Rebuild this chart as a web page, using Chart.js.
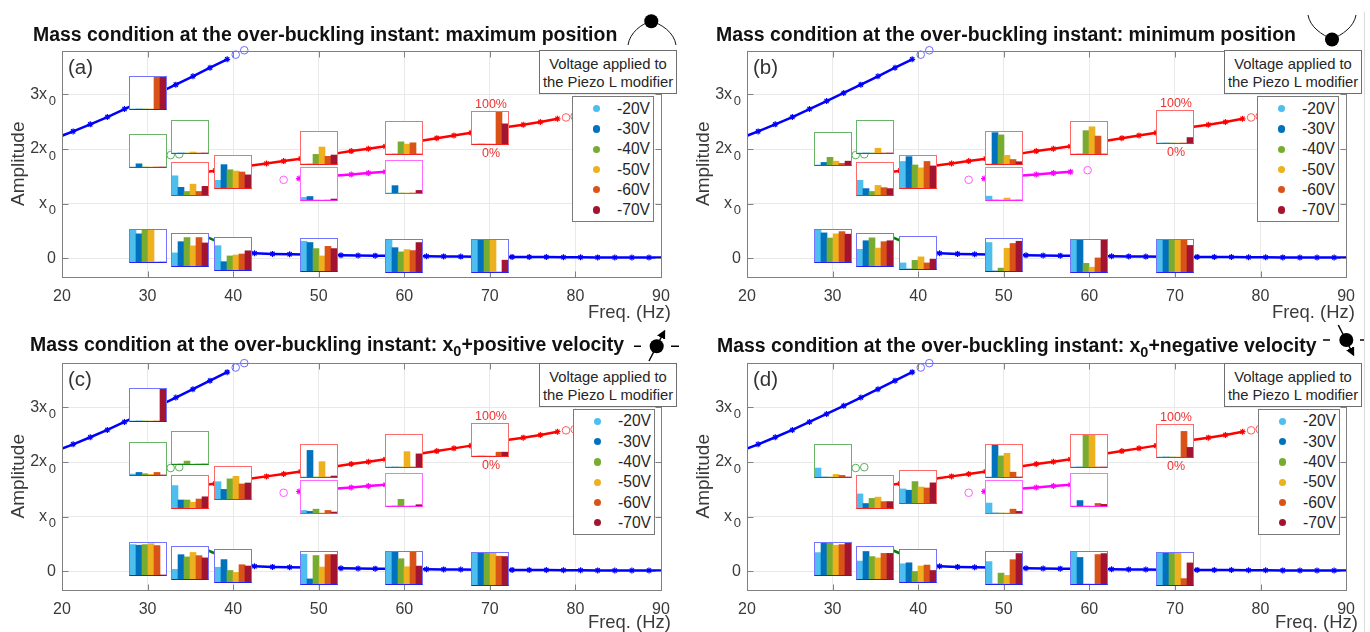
<!DOCTYPE html>
<html><head><meta charset="utf-8">
<script src="https://cdn.jsdelivr.net/npm/chart.js@4"></script>
<style>
html,body{margin:0;padding:0;background:#fff;overflow:hidden;width:1370px;height:632px;font-family:"Liberation Sans",Arial,sans-serif}
canvas{display:block}
.abs{position:absolute}
.title{position:absolute;font-weight:bold;color:#111;white-space:nowrap;line-height:22px;transform:translateY(-50%)}
.title sub{font-size:14.5px;line-height:0;vertical-align:-5px}
.inset{position:absolute;box-sizing:border-box;background:#fff;border-style:solid;border-width:1px;overflow:hidden}
.label{position:absolute;white-space:nowrap;color:#3a3a3a;transform:translateY(-50%)}
.vbox{position:absolute;box-sizing:border-box;background:#fff;border:1px solid #6e6e6e;color:#262626;font-size:14.8px;line-height:18.3px;text-align:center;padding-top:3.5px;white-space:nowrap}
.legend{position:absolute;box-sizing:border-box;background:#fff;border:1px solid #7a7a7a}
.dot{position:absolute;width:7.4px;height:7.4px;border-radius:50%}
.ltext{position:absolute;font-size:15.6px;color:#262626;white-space:nowrap;transform:translate(-100%,-50%)}
.pct{position:absolute;color:#f03030;font-size:12.5px;white-space:nowrap;transform:translate(-50%,-50%)}
</style></head><body>
<script>
// ---- shared categories ----
const voltages = ['-20V','-30V','-40V','-50V','-60V','-70V'];
const voltageColors = ['#4DBEEE','#0072BD','#77AC30','#EDB120','#D95319','#A2142F'];
const xTicks = [20,30,40,50,60,70,80,90];
const yTicks = [0,1,2,3];
const yTickLabels = ['0','x','2x','3x'];

// ---- response branches (frequency in Hz, amplitude in x0) ----
const upperBlueFreq = [20,21.3,23.3,25.3,27.3,29.3,31.3,33.3,35.3,37.3,39.3];
const upperBlueAmp  = [2.245,2.324,2.453,2.587,2.734,2.88,3.028,3.18,3.333,3.49,3.645];
const upperBlueOpenFreq = [40.3,41.3];
const upperBlueOpenAmp  = [3.73,3.81];

const lowerBlueFreq = [38.5,40.5,42.5,44.6,46.6,48.6,50.6,52.6,54.6,56.6,58.6,60.6,62.6,64.6,66.6,68.6,70.6,72.6,74.6,76.6,78.6,80.6,82.6,84.6,86.6,88.6,90];
const lowerBlueAmp  = [.115,.102,.092,.08,.073,.067,.06,.055,.05,.048,.044,.04,.037,.034,.031,.028,.027,.025,.023,.022,.02,.018,.016,.015,.014,.013,.012];

const redFreq = [35.9,37.9,39.9,41.9,43.9,45.9,47.9,49.9,51.9,53.8,55.8,57.8,59.8,61.8,63.8,65.8,67.8,69.8,71.8,73.9,75.9,77.9];
const redAmp  = [1.56,1.605,1.65,1.693,1.737,1.78,1.825,1.87,1.917,1.963,2.005,2.05,2.10,2.15,2.2,2.25,2.30,2.35,2.40,2.446,2.495,2.555];
const redOpenFreq = [78.9,79.9];
const redOpenAmp  = [2.58,2.6];

const magentaFreq = [47.7,49.8,51.8,53.8,55.8,57.8];
const magentaAmp  = [1.46,1.485,1.51,1.534,1.56,1.583];
const magentaOpenFreq = [45.9,59.8];
const magentaOpenAmp  = [1.437,1.614];

const greenUpperFreq = [29.8,31.7];
const greenUpperAmp  = [1.87,1.885];
const greenOpenFreq = [32.7,33.7];
const greenOpenAmp  = [1.89,1.905];
const greenLowerFreq = [36.2,37.9,39.9];
const greenLowerAmp  = [.44,.325,.19];

// ---- inset bars: [branch, frequency, amplitude anchor, percent per voltage] ----
const insetsA = [
 ['blue',30,3.03,[0,0,0,0,100,100]],
 ['green',30,1.96,[0,10,0,0,0,0]],
 ['green',35,2.217,[0,0,0,3,0,0]],
 ['red',35,1.443,[60,24,11,34,11,27]],
 ['red',40,1.575,[24,73,57,53,50,41]],
 ['blue',30,.217,[100,88,100,100,0,0]],
 ['blue',35,.147,[41,76,89,63,89,72]],
 ['blue',40,.083,[76,26,44,47,50,60]],
 ['red',50,2.015,[0,0,30,53,24,28]],
 ['magenta',50,1.358,[8,11,0,0,0,3]],
 ['blue',50,.055,[93,89,70,47,77,70]],
 ['red',60,2.193,[0,0,38,31,35,0]],
 ['magenta',60,1.483,[0,23,0,0,0,8]],
 ['blue',60,.046,[100,76,63,70,67,92]],
 ['red',70,2.391,[0,0,0,0,100,63]],
 ['blue',70,.034,[100,100,100,100,0,37]]
];
const insetsB = [
 ['green',30,2.003,[0,8,24,12,5,12]],
 ['green',35,2.211,[0,0,0,15,0,0]],
 ['red',35,1.443,[46,20,11,30,23,20]],
 ['red',40,1.575,[83,98,72,63,83,69]],
 ['blue',30,.217,[100,91,75,88,95,87]],
 ['blue',35,.153,[52,79,88,56,76,79]],
 ['blue',40,.09,[19,0,27,38,19,31]],
 ['red',50,2.015,[0,98,91,27,14,7]],
 ['magenta',50,1.364,[12,0,0,6,0,0]],
 ['blue',50,.064,[89,0,9,71,86,93]],
 ['red',60,2.193,[0,0,73,85,56,0]],
 ['blue',60,.046,[100,100,27,15,44,100]],
 ['red',70,2.394,[0,0,0,0,0,17]],
 ['blue',70,.034,[100,100,100,100,100,83]]
];
const insetsC = [
 ['blue',30,3.04,[0,0,0,0,0,100]],
 ['green',30,2.05,[3,8,4,2,8,0]],
 ['green',35,2.245,[0,0,9,0,0,0]],
 ['red',35,1.454,[70,25,25,18,28,35]],
 ['red',40,1.607,[54,30,63,71,47,50]],
 ['blue',30,.22,[95,93,95,98,92,0]],
 ['blue',35,.147,[30,76,69,83,73,66]],
 ['blue',40,.092,[46,70,36,30,54,50]],
 ['red',50,2.016,[0,83,0,48,0,3]],
 ['magenta',50,1.35,[8,5,12,0,8,3]],
 ['blue',50,.058,[93,16,89,53,92,92]],
 ['red',60,2.2,[0,0,0,48,0,41]],
 ['magenta',60,1.48,[0,0,21,0,0,4]],
 ['blue',60,.049,[100,100,79,54,100,56]],
 ['red',70,2.4,[0,0,0,0,12,12]],
 ['blue',70,.04,[100,100,100,100,90,89]]
];
const insetsD = [
 ['green',30,2.013,[28,0,0,8,5,0]],
 ['red',35,1.451,[44,14,30,34,20,20]],
 ['red',40,1.546,[44,40,67,50,47,63]],
 ['blue',30,.22,[70,100,100,93,95,99]],
 ['blue',35,.147,[56,86,70,66,80,80]],
 ['blue',40,.092,[57,60,33,50,53,36]],
 ['red',50,2.016,[0,100,66,74,15,0]],
 ['magenta',50,1.363,[31,0,0,0,12,5]],
 ['blue',50,.058,[70,0,34,27,76,95]],
 ['red',60,2.2,[0,0,100,100,0,0]],
 ['magenta',60,1.48,[0,17,0,0,8,5]],
 ['blue',60,.052,[100,83,0,0,92,95]],
 ['red',70,2.389,[0,0,0,0,80,30]],
 ['blue',70,.04,[100,100,100,100,20,69]]
];

// ---- styling and layout ----
const FONT = '"Liberation Sans",Arial,sans-serif';
const frameStyles = {
  blue:    ['#7474ff','#2222f5'],
  green:   ['#68b468','#128a12'],
  red:     ['#ff6a6a','#f52222'],
  magenta: ['#ff6aff','#ff22ff']
};
Chart.defaults.animation = false;
Chart.defaults.responsive = false;
Chart.defaults.devicePixelRatio = 1;
Chart.defaults.font.family = FONT;

function pts(f,a){ return f.map((x,i)=>({x,y:a[i]})); }
function lineSet(color,f,a,plain){
  return {data:pts(f,a),showLine:true,borderColor:color,borderWidth:2.5,tension:0,
    pointStyle:'star',pointBorderColor:color,pointBackgroundColor:color,pointBorderWidth:1.2,
    pointRadius:c=>{const v=c.raw&&c.raw.x;return (plain||v===20||v===90)?0:3;}};
}
function openSet(color,f,a){
  return {data:pts(f,a),showLine:false,clip:false,pointStyle:'circle',pointRadius:3.8,
    pointBorderWidth:1,pointBorderColor:color,pointBackgroundColor:'rgba(0,0,0,0)'};
}
const boxPlugin = {
  id:'boxTicks',
  afterDraw(chart){
    const {ctx,chartArea:a,scales:{x,y}} = chart;
    const l=Math.round(a.left)+.5,r=Math.round(a.right)+.5,t=Math.round(a.top)+.5,b=Math.round(a.bottom)+.5;
    ctx.save();
    ctx.strokeStyle='#808080';ctx.lineWidth=1;
    ctx.strokeRect(l,t,r-l,b-t);
    ctx.beginPath();
    xTicks.forEach(v=>{const p=Math.round(x.getPixelForValue(v))+.5;ctx.moveTo(p,t);ctx.lineTo(p,t+6);ctx.moveTo(p,b);ctx.lineTo(p,b-6);});
    yTicks.forEach(v=>{const p=Math.round(y.getPixelForValue(v))+.5;ctx.moveTo(l,p);ctx.lineTo(l+6,p);ctx.moveTo(r,p);ctx.lineTo(r-6,p);});
    ctx.stroke();
    // subscript 0 after x in the tick labels
    ctx.fillStyle='#3a3a3a';ctx.font='13px '+FONT;ctx.textAlign='right';ctx.textBaseline='middle';
    yTicks.forEach((v,i)=>{ if(yTickLabels[i].includes('x')) ctx.fillText('0',a.left-6,y.getPixelForValue(v)+7); });
    ctx.restore();
  }
};

function el(cls,css,html){
  const d=document.createElement('div');d.className=cls;Object.assign(d.style,css);
  if(html!==undefined)d.innerHTML=html;document.body.appendChild(d);return d;
}
function px(v){return v+'px';}

function buildPanel(p){
  const c=document.createElement('canvas');
  c.width=680;c.height=280;c.className='abs';c.style.left=px(p.left);c.style.top=px(p.top);
  document.body.appendChild(c);
  const chart=new Chart(c,{
    type:'scatter',
    data:{datasets:[
      lineSet('#0000ff',upperBlueFreq,upperBlueAmp),
      openSet('#6a6aff',upperBlueOpenFreq,upperBlueOpenAmp),
      lineSet('#0000ff',lowerBlueFreq,lowerBlueAmp),
      lineSet('#ff0000',redFreq,redAmp),
      openSet('#ff5c5c',redOpenFreq,redOpenAmp),
      lineSet('#ff00ff',magentaFreq,magentaAmp),
      openSet('#ff5cff',magentaOpenFreq,magentaOpenAmp),
      lineSet('#008000',greenUpperFreq,greenUpperAmp,true),
      openSet('#5cad5c',greenOpenFreq,greenOpenAmp),
      lineSet('#008000',greenLowerFreq,greenLowerAmp,true)
    ]},
    options:{
      layout:{autoPadding:false,padding:{left:0,top:0,right:p.padRight,bottom:p.padBottom}},
      plugins:{legend:{display:false},tooltip:{enabled:false}},
      scales:{
        x:{type:'linear',min:20,max:90,
          afterFit(s){s.height=30;},
          afterBuildTicks(s){s.ticks=xTicks.map(value=>({value}));},
          grid:{color:'#e9e9e9',drawTicks:false,lineWidth:1},border:{display:false},
          ticks:{color:'#3a3a3a',font:{size:16},padding:10,maxRotation:0,autoSkip:false,includeBounds:false}},
        y:{type:'linear',min:p.ymin,max:p.ymax,
          afterFit(s){s.width=62;},
          afterBuildTicks(s){s.ticks=yTicks.map(value=>({value}));},
          grid:{color:'#e9e9e9',drawTicks:false,lineWidth:1},border:{display:false},
          title:{display:true,text:'Amplitude',color:'#3a3a3a',font:{size:19},padding:{top:7,bottom:0}},
          ticks:{color:'#3a3a3a',font:{size:16},padding:6,autoSkip:false,
            callback(v){const i=yTicks.indexOf(v);const s=i<0?'':yTickLabels[i];return s.includes('x')?s+'\u00A0\u00A0':s;}}}
      }
    },
    plugins:[boxPlugin]
  });
  // insets, positioned through the panel's own scales
  const W=38,H=34.4;
  p.insets.forEach(([branch,f,amp,vals])=>{
    const cx=p.left+chart.scales.x.getPixelForValue(f), cy=p.top+chart.scales.y.getPixelForValue(amp);
    const L=Math.round(cx-W/2),T=Math.round(cy-H/2);
    const [c1,c2]=frameStyles[branch];
    const box=el('inset',{left:px(L),top:px(T),width:px(W),height:px(34),borderColor:c1,borderBottomColor:c2});
    const ic=document.createElement('canvas');ic.width=36;ic.height=32;box.appendChild(ic);
    new Chart(ic,{type:'bar',
      data:{labels:voltages,datasets:[{data:vals,backgroundColor:voltageColors,barPercentage:1,categoryPercentage:1,borderWidth:0}]},
      options:{layout:{autoPadding:false,padding:0},plugins:{legend:{display:false},tooltip:{enabled:false}},
        scales:{x:{display:false,grid:{display:false}},y:{display:false,min:0,max:100,grid:{display:false}}}}});
    if(branch==='red'&&f===70){
      el('pct',{left:px(L+W/2+1),top:px(T-7)},'100%');
      el('pct',{left:px(L+W/2+1),top:px(T+34+8)},'0%');
    }
  });
  // panel letter, axis label
  el('label',{left:px(p.left+68),top:px(p.letterY),fontSize:'20.5px',color:'#333'},p.letter);
  el('label',{left:px(p.freqX),top:px(p.freqY),fontSize:'18.4px'},'Freq. (Hz)');
  // title
  el('title',{left:px(p.titleX),top:px(p.titleY),fontSize:'19.45px'},p.title);
  // note box
  el('vbox',{left:px(p.vx),top:px(p.vy),width:px(p.vw),height:px(44)},'Voltage applied to<br>the Piezo L modifier');
  // legend
  el('legend',{left:px(p.lx),top:px(p.ly),width:px(82),height:px(126)});
  voltages.forEach((v,i)=>{
    const y=p.ly+12.6+i*20.3;
    el('dot',{left:px(p.lx+21),top:px(y-3.7),background:voltageColors[i]});
    el('ltext',{left:px(p.lx+78),top:px(y)},v);
  });
}

buildPanel({left:0,top:35,padRight:19,padBottom:8,ymin:-.343,ymax:3.804,insets:insetsA,letter:'(a)',letterY:67,
  freqX:588,freqY:312,titleX:33,titleY:34,
  title:'Mass condition at the over-buckling instant: maximum position',vx:539,vy:50,vw:138,lx:572,ly:96});
buildPanel({left:685,top:35,padRight:18,padBottom:8,ymin:-.343,ymax:3.804,insets:insetsB,letter:'(b)',letterY:67,
  freqX:1272,freqY:312,titleX:716,titleY:34,
  title:'Mass condition at the over-buckling instant: minimum position',vx:1224,vy:50,vw:138,lx:1257,ly:96});
buildPanel({left:0,top:347,padRight:19,padBottom:7,ymin:-.343,ymax:3.82,insets:insetsC,letter:'(c)',letterY:379,
  freqX:588,freqY:622,titleX:30,titleY:344,
  title:'Mass condition at the over-buckling instant: x<sub>0</sub>+positive velocity',vx:539,vy:363,vw:138,lx:573,ly:408.7});
buildPanel({left:685,top:347,padRight:18,padBottom:7,ymin:-.343,ymax:3.82,insets:insetsD,letter:'(d)',letterY:379,
  freqX:1275,freqY:622,titleX:717,titleY:345,
  title:'Mass condition at the over-buckling instant: x<sub>0</sub>+negative velocity',vx:1224,vy:363,vw:138,lx:1258,ly:408.7});

// sketches of the mass condition and the thin page rule at the right edge
const ns='http://www.w3.org/2000/svg';
const svg=document.createElementNS(ns,'svg');
svg.setAttribute('width','1370');svg.setAttribute('height','632');
svg.style.cssText='position:absolute;left:0;top:0;pointer-events:none';
svg.innerHTML=`
<defs><marker id="ah" markerWidth="7" markerHeight="7" refX="5" refY="3" orient="auto"><path d="M0,0 L6,3 L0,6 Z" fill="#000"/></marker></defs>
<path d="M628 45 C630 32,642 24,651 21 C661 24,674 32,676 45" fill="none" stroke="#111" stroke-width="1"/>
<circle cx="651.3" cy="21.3" r="7" fill="#000"/>
<path d="M1308 15 C1310 27,1322 35,1332 39 C1342 35,1354 27,1356 15" fill="none" stroke="#111" stroke-width="1"/>
<circle cx="1332" cy="39.5" r="7" fill="#000"/>
<circle cx="656.7" cy="346.3" r="7" fill="#000"/>
<path d="M634 346.3H641M671 346.3H679" stroke="#000" stroke-width="1.5"/>
<path d="M649 361L664.5 331" stroke="#000" stroke-width="1.5" marker-end="url(#ah)"/>
<circle cx="1346.3" cy="340" r="7" fill="#000"/>
<path d="M1323 340H1330M1360 340H1365" stroke="#000" stroke-width="1.5"/>
<path d="M1338.3 325L1353.5 355" stroke="#000" stroke-width="1.5" marker-end="url(#ah)"/>
<path d="M1364.5 12V632" stroke="#dcdcdc" stroke-width="1"/>`;
document.body.appendChild(svg);
</script>
</body></html>
